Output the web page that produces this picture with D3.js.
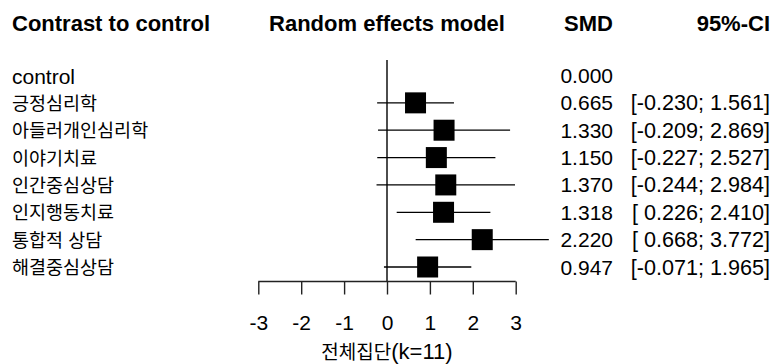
<!DOCTYPE html>
<html>
<head>
<meta charset="utf-8">
<script src="https://cdn.jsdelivr.net/npm/d3@7"></script>
<style>
  body { margin: 0; background: #fff; }
  text { font-family: "Liberation Sans", Arial, "Noto Sans CJK KR", sans-serif; fill: #000; }
</style>
</head>
<body>
<div id="forest"></div>
<script>
const labels = ["control", "긍정심리학", "아들러개인심리학", "이야기치료", "인간중심상담", "인지행동치료", "통합적 상담", "해결중심상담"];
const smd = [0.000, 0.665, 1.330, 1.150, 1.370, 1.318, 2.220, 0.947];
const lower = [null, -0.230, -0.209, -0.227, -0.244, 0.226, 0.668, -0.071];
const upper = [null, 1.561, 2.869, 2.527, 2.984, 2.410, 3.772, 1.965];
const tickValues = [-3, -2, -1, 0, 1, 2, 3];
const headers = ["Contrast to control", "Random effects model", "SMD", "95%-CI"];
const xLabelKo = "전체집단";
const xLabelK = "(k=11)";

const width = 774, height = 364;
const boxSize = 21;
const axisY = 281.5;

const rows = labels.map((l, i) => ({label: l, smd: smd[i], lo: lower[i], hi: upper[i]}));

const svg = d3.select('#forest')
              .append('svg')
              .attr('width', width)
              .attr('height', height);

// x-scale for SMD
const xScale = d3.scaleLinear()
                 .domain([-3, 3])
                 .range([258.3, 515.7]);

// y positions for rows
const yScale = d3.scalePoint()
                 .domain(labels)
                 .range([75.5, 267]);

// plain hyphen instead of unicode minus
const fmt = v => d3.format(".3f")(v).replace('\u2212', '-');
const hasHangul = s => /[\uac00-\ud7a3]/.test(s);

// headers
const headerX = [12, xScale(0), 613, 770];
const headerAnchor = ["start", "middle", "end", "end"];
svg.selectAll('text.header')
   .data(headers)
   .enter()
   .append('text')
   .attr('class', 'header')
   .attr('x', (d, i) => headerX[i])
   .attr('y', 31)
   .attr('text-anchor', (d, i) => headerAnchor[i])
   .style('font-weight', 'bold')
   .style('font-size', '22px')
   .text(d => d);

// row labels
svg.selectAll('text.label')
   .data(rows)
   .enter()
   .append('text')
   .attr('class', 'label')
   .attr('x', 12)
   .attr('y', d => yScale(d.label) + (hasHangul(d.label) ? 7 : 8))
   .style('font-size', d => hasHangul(d.label) ? '18.5px' : '21px')
   .text(d => d.label);

// zero line
svg.append('line')
   .attr('x1', xScale(0)).attr('x2', xScale(0))
   .attr('y1', 60).attr('y2', axisY)
   .attr('stroke', '#000')
   .attr('stroke-width', 1.4);

// confidence intervals
const ciRows = rows.filter(d => d.lo !== null);
svg.selectAll('line.ci')
   .data(ciRows)
   .enter()
   .append('line')
   .attr('class', 'ci')
   .attr('x1', d => xScale(d.lo))
   .attr('x2', d => xScale(d.hi))
   .attr('y1', d => yScale(d.label))
   .attr('y2', d => yScale(d.label))
   .attr('stroke', '#000')
   .attr('stroke-width', 1.3);

svg.selectAll('rect.box')
   .data(ciRows)
   .enter()
   .append('rect')
   .attr('class', 'box')
   .attr('x', d => xScale(d.smd) - boxSize / 2)
   .attr('y', d => yScale(d.label) - boxSize / 2)
   .attr('width', boxSize)
   .attr('height', boxSize)
   .attr('fill', '#000');

// SMD and CI columns
svg.selectAll('text.smd')
   .data(rows)
   .enter()
   .append('text')
   .attr('class', 'smd')
   .attr('x', 613)
   .attr('y', d => yScale(d.label) + 7.5)
   .attr('text-anchor', 'end')
   .style('font-size', '21px')
   .text(d => fmt(d.smd));

svg.selectAll('text.ci')
   .data(ciRows)
   .enter()
   .append('text')
   .attr('class', 'ci')
   .attr('x', 770)
   .attr('y', d => yScale(d.label) + 7.5)
   .attr('text-anchor', 'end')
   .attr('xml:space', 'preserve')
   .style('white-space', 'pre')
   .style('font-size', '21.6px')
   .text(d => '[' + (d.lo >= 0 ? ' ' : '') + fmt(d.lo) + '; ' + fmt(d.hi) + ']');

// x axis
const xAxis = d3.axisBottom(xScale)
                .tickValues(tickValues)
                .tickFormat(d => fmt(d).replace('.000', ''))
                .tickSize(13)
                .tickPadding(21);

const gAxis = svg.append('g')
                 .attr('transform', `translate(0, ${axisY})`)
                 .call(xAxis);
gAxis.select('.domain')
     .attr('d', `M${xScale(-3)},0H${xScale(3)}`)
     .attr('stroke', '#222')
     .attr('stroke-width', 1.4);
gAxis.selectAll('.tick line')
     .attr('stroke', '#222')
     .attr('stroke-width', 1.4);
gAxis.selectAll('.tick text')
     .style('font-size', '21px')
     .style('font-family', '"Liberation Sans", Arial, sans-serif')
     .attr('fill', '#000');

const xl = svg.append('text')
              .attr('x', xScale(0))
              .attr('y', 359)
              .attr('text-anchor', 'middle');
xl.append('tspan').style('font-size', '19px').text(xLabelKo);
xl.append('tspan').style('font-size', '22px').text(xLabelK);
</script>
</body>
</html>
